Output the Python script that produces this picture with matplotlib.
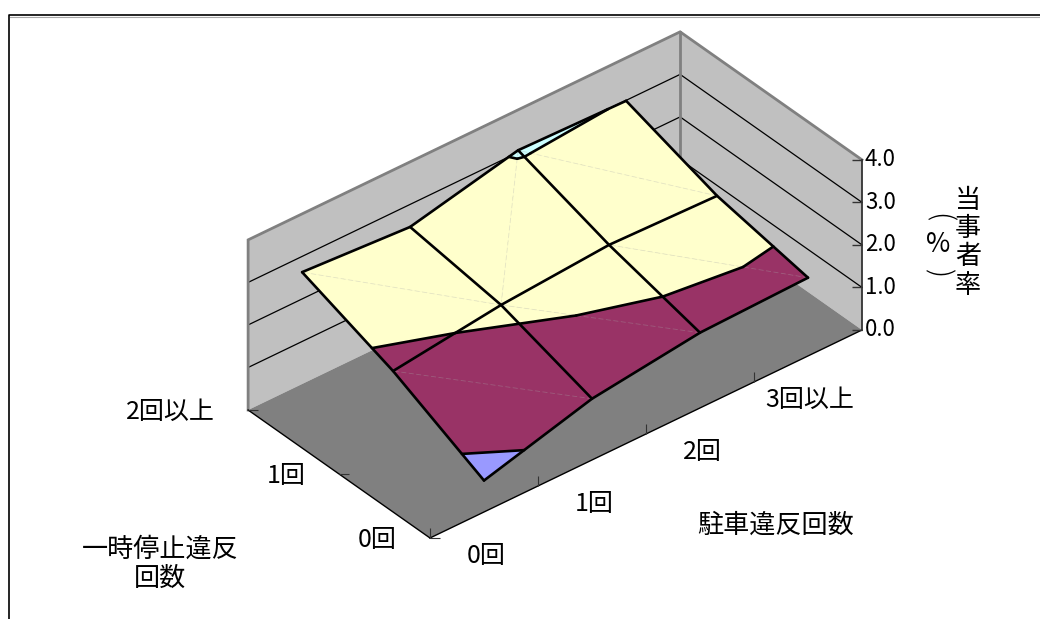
import matplotlib
matplotlib.use('Agg')

import numpy as np
import matplotlib.pyplot as plt
from mpl_toolkits.mplot3d import proj3d
from mpl_toolkits.mplot3d.art3d import Poly3DCollection

plt.rcParams['font.family'] = ['Noto Sans CJK JP', 'DejaVu Sans']

# data
parking_labels = ['0回', '1回', '2回', '3回以上']
stop_labels = ['0回', '1回', '2回以上']
z_ticks = [0.0, 1.0, 2.0, 3.0, 4.0]
rate_stop0 = [0.74, 1.44, 1.77, 1.84]
rate_stop1 = [1.81, 2.14, 2.33, 2.26]
rate_stop2 = [2.63, 2.47, 3.05, 2.99]
band_colors = ['#9999FF', '#993366', '#FFFFCC', '#CCFFFF']

W, H = 1040, 619
rates = np.array([rate_stop0, rate_stop1, rate_stop2])
xs = np.arange(len(parking_labels)) + 0.5
ys = np.arange(len(stop_labels), dtype=float)
xmax, ymax, zmax = len(parking_labels), len(stop_labels) - 1, z_ticks[-1]


def clip_half(poly, level, keep_above):
    """Clip a polygon against a horizontal plane."""
    out = []
    for a, b in zip(poly, poly[1:] + poly[:1]):
        a_in = a[2] >= level if keep_above else a[2] <= level
        b_in = b[2] >= level if keep_above else b[2] <= level
        if a_in:
            out.append(a)
        if a_in != b_in:
            t = (level - a[2]) / (b[2] - a[2])
            out.append(tuple(a[k] + t * (b[k] - a[k]) for k in range(3)))
    return out


def level_segment(tri, level):
    """Where a triangle crosses a level, or None."""
    pts = []
    for a, b in zip(tri, tri[1:] + tri[:1]):
        if (a[2] - level) * (b[2] - level) < 0:
            t = (level - a[2]) / (b[2] - a[2])
            pts.append(tuple(a[k] + t * (b[k] - a[k]) for k in range(3)))
    return pts if len(pts) == 2 else None


def cell_triangles(i, j):
    """Split one cell in two. One cell has its diagonal the other way round."""
    p = lambda ii, jj: (xs[ii], ys[jj], rates[jj, ii])
    if (i, j) == (1, 1):
        return [[p(i, j), p(i + 1, j), p(i + 1, j + 1)], [p(i, j), p(i + 1, j + 1), p(i, j + 1)]]
    return [[p(i, j), p(i + 1, j), p(i, j + 1)], [p(i + 1, j), p(i + 1, j + 1), p(i, j + 1)]]


fig = plt.figure(figsize=(W / 100, H / 100), dpi=100)
ax_h = W / H
ax = fig.add_axes([0, 0.5 - ax_h / 2, 1, ax_h], projection='3d', computed_zorder=False)
ax.set_proj_type('ortho')
ax.view_init(elev=35.6, azim=-129.6)
ax.set_xlim(0, xmax)
ax.set_ylim(0, ymax)
ax.set_zlim(0, zmax)
ax.set_axis_off()
ax.patch.set_alpha(0)


def to_px(x, y, z):
    xp, yp, _ = proj3d.proj_transform(x, y, z, ax.get_proj())
    return ax.transData.transform((xp, yp))


# fit the box to where the reference has it
box = (560, 285, 209)
ax.set_box_aspect(box, zoom=1)
fig.canvas.draw()
span = to_px(xmax, 0, 0) - to_px(0, 0, 0)
ax.set_box_aspect(box, zoom=432 / span[0])
fig.canvas.draw()
corner = to_px(0, 0, 0)
pos = ax.get_position(original=True)
shift_x = (430 - corner[0]) / W
shift_y = ((H - 538) - corner[1]) / H
ax.set_position([pos.x0 + shift_x, pos.y0 + shift_y, pos.width, pos.height])
fig.canvas.draw()

# floor and walls
floor = [(0, 0, 0), (xmax, 0, 0), (xmax, ymax, 0), (0, ymax, 0)]
back_wall = [(0, ymax, 0), (xmax, ymax, 0), (xmax, ymax, zmax), (0, ymax, zmax)]
side_wall = [(xmax, 0, 0), (xmax, ymax, 0), (xmax, ymax, zmax), (xmax, 0, zmax)]
ax.add_collection3d(Poly3DCollection([back_wall, side_wall], facecolors='#C0C0C0', edgecolors='none', zorder=1))
ax.add_collection3d(Poly3DCollection([floor], facecolors='#808080', edgecolors='none', zorder=1.5))

for z in z_ticks[1:-1]:
    ax.plot([0, xmax, xmax], [ymax, ymax, 0], [z, z, z], color='black', lw=0.9, zorder=2)
edge = dict(color='#808080', lw=2.0, zorder=2, solid_joinstyle='miter')
ax.plot([0, 0, xmax, xmax], [ymax, ymax, ymax, 0], [0, zmax, zmax, zmax], **edge)
ax.plot([xmax, xmax], [ymax, ymax], [0, zmax], **edge)

# axis lines and ticks
ax.plot([0, xmax], [0, 0], [0, 0], color='black', lw=1.0, zorder=2.5)
ax.plot([0, 0], [0, ymax], [0, 0], color='black', lw=1.0, zorder=2.5)
ax.plot([xmax, xmax], [0, 0], [0, zmax], color='#333333', lw=1.3, zorder=2.5)
ax.plot([xmax] * len(z_ticks), [0] * len(z_ticks), z_ticks, ls='', marker=0, ms=7, mew=1.0, color='#333333', zorder=2.5)
ax.plot(np.arange(xmax), [0] * xmax, [0] * xmax, ls='', marker=2, ms=7, mew=0.8, color='#333333', zorder=2.5)
ax.plot([0] * len(ys), ys, [0] * len(ys), ls='', marker=1, ms=7, mew=0.8, color='#333333', zorder=2.5)

# surface, one colour per 1.0 band
polys, colors, diagonals, level_lines = [], [], [], []
for j in range(len(ys) - 1):
    for i in range(len(xs) - 1):
        tris = cell_triangles(i, j)
        diagonals.append([p for p in tris[0] if p in tris[1]])
        for tri in tris:
            for b, col in enumerate(band_colors):
                part = clip_half(tri, z_ticks[b], True)
                part = clip_half(part, z_ticks[b + 1], False) if part else part
                if len(part) >= 3:
                    polys.append(part)
                    colors.append(col)
            for lev in z_ticks[1:-1]:
                seg = level_segment(tri, lev)
                if seg:
                    level_lines.append(seg)

ax.add_collection3d(Poly3DCollection(polys, facecolors=colors, edgecolors=colors, linewidths=0.4, zorder=3))

for d in diagonals:
    ax.plot(*zip(*d), color='#B0B0B0', lw=0.6, ls=(0, (6, 3)), alpha=0.3, zorder=3.2)
for seg in level_lines:
    ax.plot(*zip(*seg), color='black', lw=1.9, zorder=3.5, solid_capstyle='round')
for j in range(len(ys)):
    ax.plot(xs, [ys[j]] * len(xs), rates[j], color='black', lw=1.9, zorder=4, solid_capstyle='round')
for i in range(len(xs)):
    ax.plot([xs[i]] * len(ys), ys, rates[:, i], color='black', lw=1.9, zorder=4, solid_capstyle='round')


def tick_text(x, y, z, text, dx, dy, size, ha='center'):
    xp, yp, _ = proj3d.proj_transform(x, y, z, ax.get_proj())
    ax.annotate(text, xy=(xp, yp), xytext=(dx, dy), textcoords='offset pixels',
                ha=ha, va='center', fontsize=size, zorder=6)


for x, lab in zip(xs, parking_labels):
    tick_text(x, 0, 0, lab, 2, -44, 18)
for y, lab in zip(ys, stop_labels):
    tick_text(0, y, 0, lab, -33, -2, 18, ha='right')
for z in z_ticks:
    tick_text(xmax, 0, z, f'{z:.1f}', 3, 0, 16, ha='left')


def px_text(x, y, text, **kw):
    fig.text(x / W, 1 - y / H, text, ha='center', va='center', **kw)


px_text(776, 525, '駐車違反回数', fontsize=18.8)
px_text(160, 549, '一時停止違反', fontsize=18.8)
px_text(160, 578, '回数', fontsize=18.8)
for k, ch in enumerate('当事者率'):
    px_text(968, 200 + k * 28.5, ch, fontsize=18.8)
px_text(938, 218, '(', fontsize=21, rotation=-90, fontweight='light')
px_text(938, 244, '%', fontsize=19)
px_text(938, 274, ')', fontsize=21, rotation=-90, fontweight='light')

# chart frame: only top and left fall inside the picture
fig.add_artist(plt.Line2D([9 / W, 9 / W, 1], [0, 1 - 15 / H, 1 - 15 / H], color='black', lw=1.2))
fig.add_artist(plt.Line2D([10 / W, 1], [1 - 16.5 / H, 1 - 16.5 / H], color='#A8A8A8', lw=0.8))

fig.savefig('out.png', dpi=100)
